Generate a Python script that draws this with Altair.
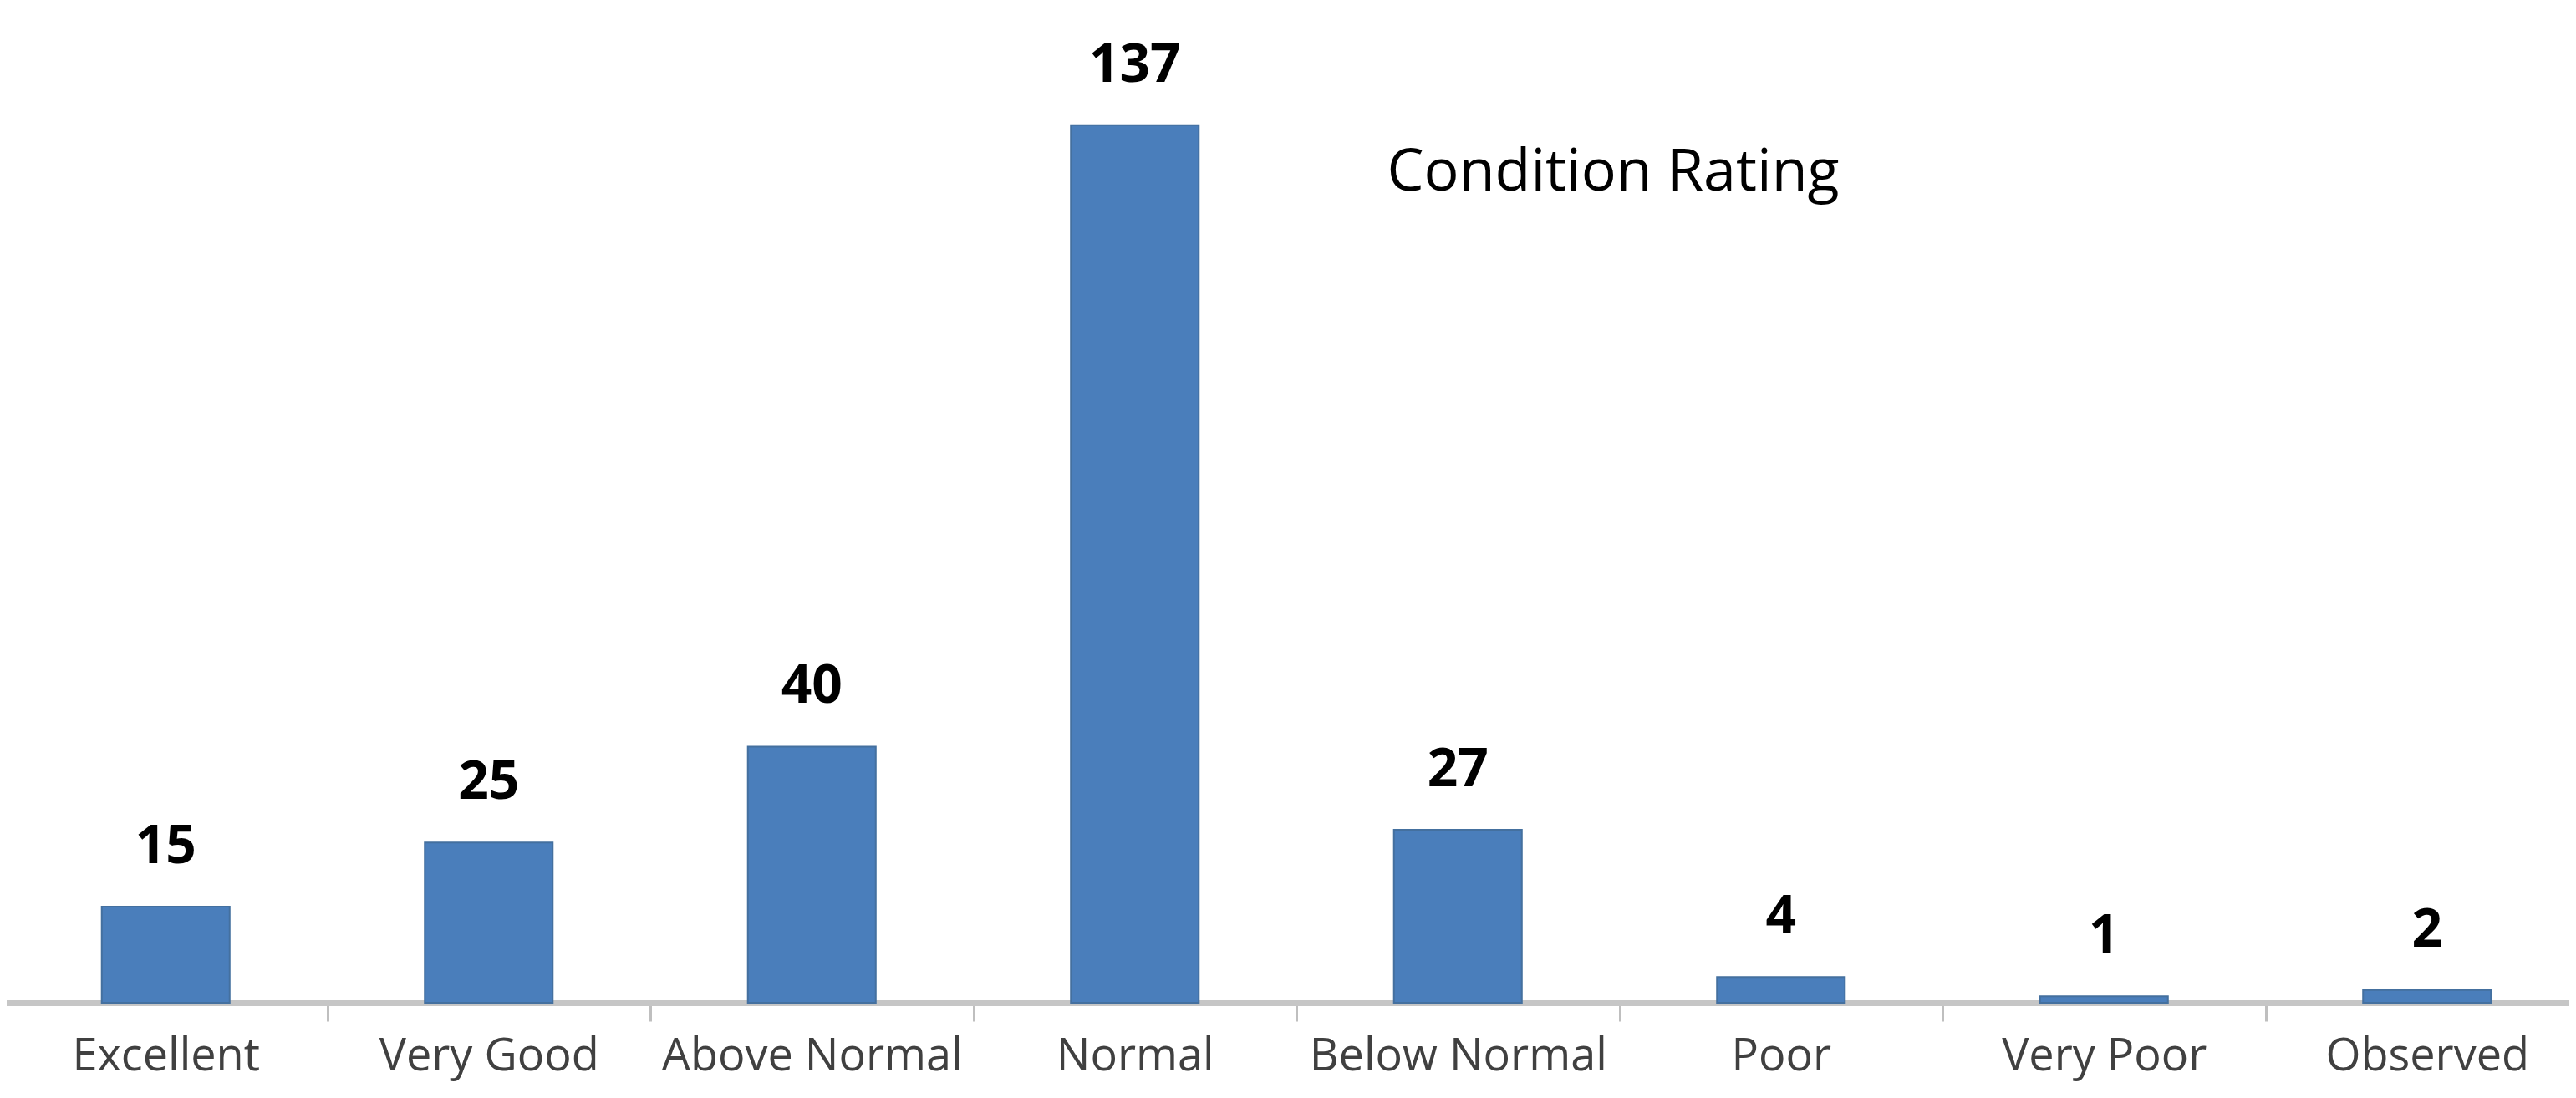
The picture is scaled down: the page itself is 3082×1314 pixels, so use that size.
import altair as alt
import pandas as pd

categories = ["Excellent", "Very Good", "Above Normal", "Normal",
              "Below Normal", "Poor", "Very Poor", "Observed"]
counts = [15, 25, 40, 137, 27, 4, 1, 2]
title_text = "Condition Rating"

df = pd.DataFrame({"category": categories, "count": counts})

FONT = "Open Sans"

x_enc = alt.X(
    "category:N",
    sort=categories,
    scale=alt.Scale(range=[-3, 3089], paddingInner=0, paddingOuter=0),
    axis=alt.Axis(
        title=None,
        labelAngle=0,
        labelFont=FONT,
        labelFontSize=54,
        labelColor="#404040",
        labelBaseline="alphabetic",
        labelPadding=58,
        labelLimit=1000,
        tickSize=22,
        tickColor="#bfbfbf",
        tickWidth=3,
        tickBand="extent",
        domainColor="#c6c6c6",
        domainWidth=7,
        grid=False,
    ),
)
y_enc = alt.Y("count:Q", scale=alt.Scale(domain=[0, 155.5], nice=False), axis=None)

base = alt.Chart(df)
bars = base.mark_bar(
    color="#4a7ebb", stroke="#44709f", strokeWidth=2,
    width=alt.RelativeBandSize(0.396),
).encode(x=x_enc, y=y_enc)
values = base.mark_text(
    dy=-52, baseline="alphabetic", align="center",
    font=FONT, fontSize=64, fontWeight="bold", color="#000000"
).encode(x=x_enc, y=y_enc, text="count:Q")

title = alt.Chart(pd.DataFrame({"t": [title_text]})).mark_text(
    font=FONT, fontSize=70, align="center", baseline="alphabetic", color="#000000"
).encode(x=alt.value(1922), y=alt.value(220), text="t:N")

chart = alt.layer(bars, values, title).properties(
    width=3066,
    height=1192,
    autosize=alt.AutoSizeParams(type="none"),
    padding={"left": 0, "top": 0, "right": 0, "bottom": 98},
).configure_view(stroke=None)

chart.save("out.html", embed_options={"renderer": "svg", "actions": False})
